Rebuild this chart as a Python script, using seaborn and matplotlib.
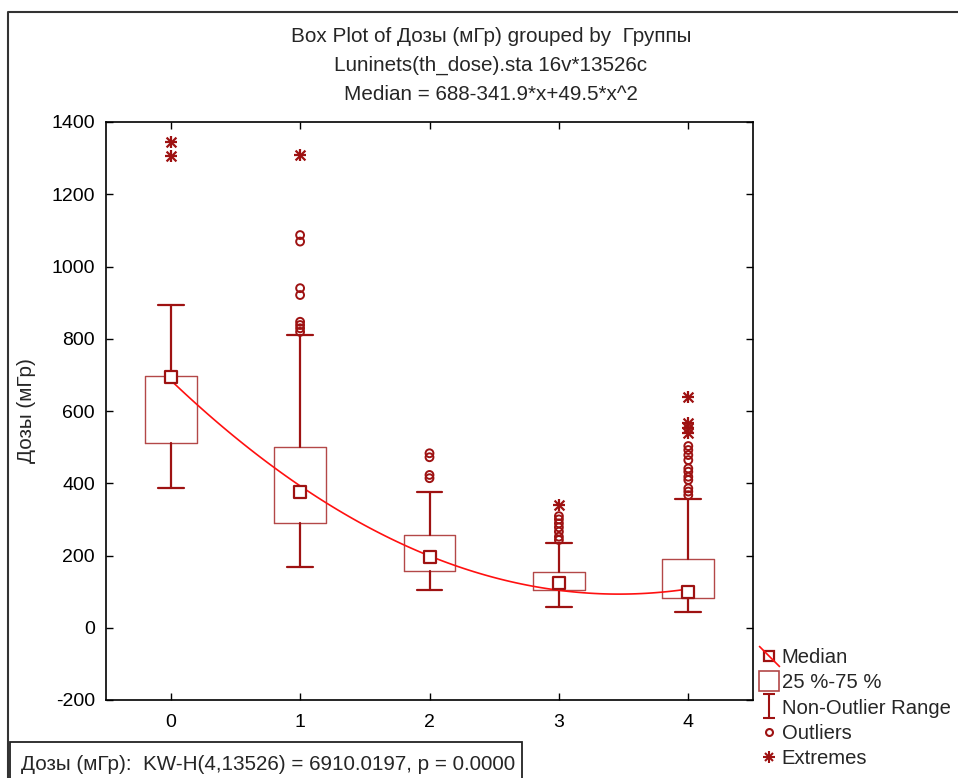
import numpy as np
import pandas as pd
import matplotlib
matplotlib.use("Agg")
import matplotlib.pyplot as plt
import seaborn as sns
from matplotlib.path import Path
from matplotlib.lines import Line2D
from matplotlib.patches import Rectangle
from matplotlib.legend_handler import HandlerTuple

# ---------------- data ----------------
groups = [0, 1, 2, 3, 4]
q1 = [511, 290, 158, 104, 82]
medians = [694, 376, 197, 123, 98]
q3 = [697, 501, 257, 155, 190]
whisk_lo = [386, 168, 104, 58, 44]
whisk_hi = [893, 809, 377, 234, 356]
outliers = [
    [],
    [1087, 1069, 940, 921, 847, 838, 829, 819],
    [483, 472, 423, 414],
    [309, 300, 289, 278, 266, 252, 243],
    [503, 492, 478, 464, 441, 432, 418, 409, 386, 377, 367],
]
extremes = [
    [1345, 1306],
    [1309],
    [],
    [340],
    [640, 567, 552, 538],
]
y_ticks = [-200, 0, 200, 400, 600, 800, 1000, 1200, 1400]
title_lines = [
    "Box Plot of Дозы (мГр) grouped by  Группы",
    "Luninets(th_dose).sta 16v*13526c",
    "Median = 688-341.9*x+49.5*x^2",
]
y_label = "Дозы (мГр)"
kw_text = "Дозы (мГр):  KW-H(4,13526) = 6910.0197, p = 0.0000"
legend_labels = ["Median", "25 %-75 %", "Non-Outlier Range", "Outliers", "Extremes"]

# ---------------- style ----------------
sns.set_style("ticks")
plt.rcParams["font.family"] = ["Liberation Sans", "DejaVu Sans"]
DARK = "#9E1212"
BOXC = "#B34848"
FS = 14.9

W, H = 958, 778
fig = plt.figure(figsize=(W / 100, H / 100), dpi=100)
L, R, T, B = 106, 753, 122, 700
ax = fig.add_axes([L / W, 1 - B / H, (R - L) / W, (B - T) / H])

# boxes + whiskers
stats = [dict(med=m, q1=a, q3=b, whislo=lo, whishi=hi, fliers=[])
         for m, a, b, lo, hi in zip(medians, q1, q3, whisk_lo, whisk_hi)]
ax.bxp(stats, positions=groups, widths=0.40, capwidths=0.20, showfliers=False,
       boxprops=dict(color=BOXC, linewidth=1.0),
       whiskerprops=dict(color=DARK, linewidth=1.6),
       capprops=dict(color=DARK, linewidth=1.6),
       medianprops=dict(linewidth=0))

# quadratic fit through the medians
sns.regplot(x=groups, y=medians, order=2, ci=None, scatter=False, ax=ax,
            line_kws=dict(color="#FF1010", linewidth=1.2, zorder=3))

# median squares
sns.scatterplot(x=groups, y=medians, marker="s", s=64, facecolor="white",
                edgecolor=DARK, linewidth=1.6, zorder=5, ax=ax)

# outliers
df_out = pd.DataFrame([(g, v) for g, vals in zip(groups, outliers) for v in vals],
                      columns=["group", "dose"])
sns.scatterplot(data=df_out, x="group", y="dose", marker="o", s=32,
                facecolor="none", edgecolor=DARK, linewidth=1.4, zorder=4, ax=ax)

# extremes (8-armed star)
df_ext = pd.DataFrame([(g, v) for g, vals in zip(groups, extremes) for v in vals],
                      columns=["group", "dose"])
sns.scatterplot(data=df_ext, x="group", y="dose", marker="+", s=80,
                color=DARK, linewidth=1.6, zorder=4, ax=ax)
sns.scatterplot(data=df_ext, x="group", y="dose", marker="x", s=50,
                color=DARK, linewidth=1.6, zorder=4, ax=ax)

# axes
ax.set_xlim(-0.5, 4.5)
ax.set_ylim(-200, 1400)
ax.set_xticks(groups)
ax.set_xticklabels([str(g) for g in groups])
ax.set_yticks(y_ticks)
ax.set_yticklabels([str(v) for v in y_ticks])
ax.tick_params(direction="in", length=5, width=1.0, top=True, right=True,
               labelsize=14, colors="black")
ax.tick_params(axis="y", pad=8)
ax.tick_params(axis="x", pad=10)
for s in ax.spines.values():
    s.set_visible(True)
    s.set_linewidth(1.2)
    s.set_color("black")
ax.set_xlabel("")
ax.set_ylabel(y_label, fontsize=FS)
ax.yaxis.set_label_coords((36 - L) / (R - L), 0.5)

# titles
for txt, yy in zip(title_lines, [37, 65, 95]):
    fig.text(491 / W, 1 - yy / H, txt, ha="center", va="center", fontsize=FS)

# legend
diag = Path([(-1, 1), (1, -1)], [Path.MOVETO, Path.LINETO])
ibar = Path([(-0.55, 1), (0.55, 1), (0, 1), (0, -1), (-0.55, -1), (0.55, -1)],
            [Path.MOVETO, Path.LINETO, Path.MOVETO, Path.LINETO, Path.MOVETO, Path.LINETO])
h_median = (Line2D([], [], ls="none", marker="s", ms=7, mfc="white", mec=DARK, mew=1.6),
            Line2D([], [], ls="none", marker=diag, ms=15, color="#FF1010", mew=1.2))
h_box = Line2D([], [], ls="none", marker="s", ms=15, mfc="white", mec=BOXC, mew=1.2)
h_range = Line2D([], [], ls="none", marker=ibar, ms=17, mfc="none", mec=DARK, mew=1.5)
h_out = Line2D([], [], ls="none", marker="o", ms=5, mfc="none", mec=DARK, mew=1.5)
h_ext = (Line2D([], [], ls="none", marker="+", ms=8, color=DARK, mew=1.5),
         Line2D([], [], ls="none", marker="x", ms=6, color=DARK, mew=1.5))
fig.legend([h_median, h_box, h_range, h_out, h_ext], legend_labels,
           loc="upper left", bbox_to_anchor=(759 / W, 1 - 648 / H),
           frameon=False, fontsize=14.6, handletextpad=0.12, labelspacing=0.31,
           handlelength=1.0, borderaxespad=0, borderpad=0,
           handler_map={tuple: HandlerTuple(ndivide=1)})

# KW statistic box at bottom left
fig.patches.append(Rectangle((10 / W, -0.02), (522 - 10) / W, 0.02 + (H - 742) / H,
                             transform=fig.transFigure, fill=False,
                             edgecolor="#222222", linewidth=1.3))
fig.text(21 / W, 1 - 765 / H, kw_text, ha="left", va="center", fontsize=FS)

# outer frame of the graph window
fig.add_artist(Line2D([8 / W, 8 / W, 1.0], [0.0, 1 - 12 / H, 1 - 12 / H],
                      transform=fig.transFigure, color="#333333", linewidth=1.5))

fig.savefig("out.png", dpi=100)
